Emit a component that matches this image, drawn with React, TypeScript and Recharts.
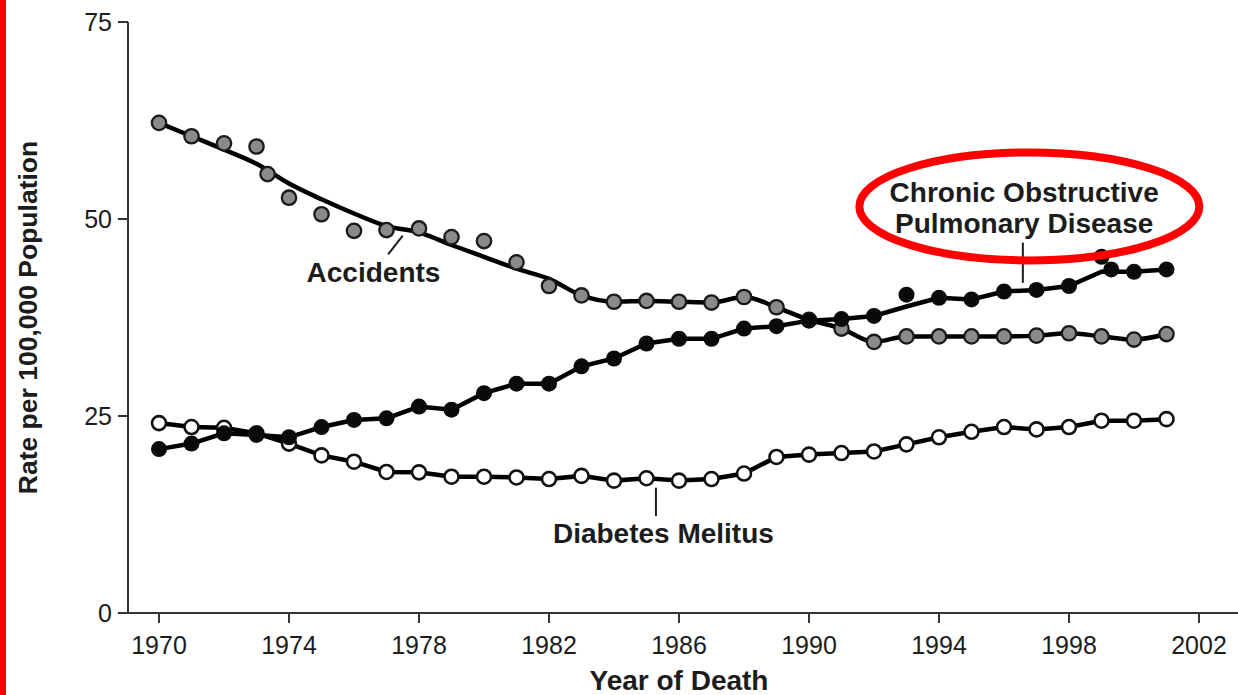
import React from 'react';
import {
  ComposedChart,
  Line,
  Scatter,
  XAxis,
  YAxis,
  ReferenceDot,
  ReferenceLine,
} from 'recharts';

// yearly categories
const years = [
  1970, 1971, 1972, 1973, 1974, 1975, 1976, 1977, 1978, 1979, 1980,
  1981, 1982, 1983, 1984, 1985, 1986, 1987, 1988, 1989, 1990, 1991,
  1992, 1993, 1994, 1995, 1996, 1997, 1998, 1999, 2000, 2001,
];

const xTicks = [1970, 1974, 1978, 1982, 1986, 1990, 1994, 1998, 2002];
const yTicks = [0, 25, 50, 75];

// Accidents: observed points (one extra point between 1973 and 1974) + fitted line
const accidentDotYears = [
  1970, 1971, 1972, 1973, 1973.34, 1974, 1975, 1976, 1977, 1978, 1979, 1980,
  1981, 1982, 1983, 1984, 1985, 1986, 1987, 1988, 1989, 1990, 1991,
  1992, 1993, 1994, 1995, 1996, 1997, 1998, 1999, 2000, 2001,
];
const accidentDots = [
  62.2, 60.5, 59.6, 59.2, 55.7, 52.7, 50.6, 48.5, 48.6, 48.8, 47.7, 47.2,
  44.5, 41.5, 40.3, 39.5, 39.6, 39.5, 39.4, 40.1, 38.8, 37.2, 36.1,
  34.4, 35.1, 35.1, 35.1, 35.1, 35.2, 35.5, 35.1, 34.7, 35.4,
];
const accidentTrend = [
  62.2, 60.5, 58.8, 57.0, 54.5, 52.5, 50.7, 49.1, 48.3, 46.7, 45.2,
  43.7, 42.4, 40.3, 39.5, 39.6, 39.5, 39.4, 40.1, 38.8, 37.2, 36.1,
  34.4, 35.1, 35.1, 35.1, 35.1, 35.2, 35.5, 35.1, 34.7, 35.4,
];

// Chronic obstructive pulmonary disease
const copdDotYears = [
  1970, 1971, 1972, 1973, 1974, 1975, 1976, 1977, 1978, 1979, 1980,
  1981, 1982, 1983, 1984, 1985, 1986, 1987, 1988, 1989, 1990, 1991,
  1992, 1993, 1994, 1995, 1996, 1997, 1998, 1999, 1999.3, 2000, 2001,
];
const copdDots = [
  20.8, 21.5, 22.8, 22.6, 22.3, 23.6, 24.5, 24.7, 26.2, 25.8, 27.9,
  29.1, 29.1, 31.3, 32.3, 34.2, 34.8, 34.8, 36.1, 36.4, 37.1, 37.3,
  37.7, 40.4, 40.0, 39.8, 40.8, 41.0, 41.5, 45.2, 43.6, 43.3, 43.6,
];
const copdTrend = [
  20.8, 21.5, 22.8, 22.6, 22.3, 23.6, 24.5, 24.7, 26.2, 25.8, 27.9,
  29.1, 29.1, 31.3, 32.3, 34.2, 34.8, 34.8, 36.1, 36.4, 37.1, 37.3,
  37.7, 38.9, 40.0, 39.8, 40.8, 41.0, 41.5, 43.3, 43.3, 43.6,
];

// Diabetes mellitus
const diabetesDots = [
  24.1, 23.6, 23.5, 22.8, 21.5, 20.0, 19.2, 17.9, 17.85, 17.3, 17.3,
  17.2, 17.0, 17.4, 16.8, 17.1, 16.8, 17.0, 17.7, 19.8, 20.1, 20.3,
  20.5, 21.4, 22.3, 23.0, 23.6, 23.3, 23.6, 24.4, 24.4, 24.6,
];

const toPoints = (xs: number[], ys: number[]) => xs.map((x, i) => ({ x, y: ys[i] }));

const accidentDotData = toPoints(accidentDotYears, accidentDots);
const accidentLineData = toPoints(years, accidentTrend);
const copdDotData = toPoints(copdDotYears, copdDots);
const copdLineData = toPoints(years, copdTrend);
const diabetesData = toPoints(years, diabetesDots);

const FONT = '"Liberation Sans", Arial, Helvetica, sans-serif';
const INK = '#1c1c1c';

const GreyDot = (props: any) => (
  <circle cx={props.cx} cy={props.cy} r={7.2} fill="#8a8a8a" stroke="#1a1a1a" strokeWidth={2.3} />
);
const WhiteDot = (props: any) => (
  <circle cx={props.cx} cy={props.cy} r={7} fill="#ffffff" stroke="#111" strokeWidth={2.6} />
);
const BlackDot = (props: any) => (
  <circle cx={props.cx} cy={props.cy} r={8} fill="#0a0a0a" />
);

const makeText = (lines: string[]) => (props: any) => (
  <text
    x={props.cx}
    y={props.cy}
    textAnchor="middle"
    fontFamily={FONT}
    fontWeight="bold"
    fontSize={28}
    fill={INK}
  >
    {lines.map((l, i) => (
      <tspan key={i} x={props.cx} dy={i === 0 ? 0 : 31}>
        {l}
      </tspan>
    ))}
  </text>
);

const RedEllipse = (props: any) => (
  <ellipse cx={props.cx} cy={props.cy} rx={170} ry={54} fill="none" stroke="#ff0000" strokeWidth={8} />
);

export default function App() {
  return (
    <div style={{ position: 'absolute', left: 0, top: 0, width: 1238, height: 695, background: '#fff', fontFamily: FONT }}>
      <div style={{ position: 'absolute', left: 0, top: 0, width: 6, height: 695, background: '#ff0000' }} />
      <ComposedChart width={1238} height={695} margin={{ top: 22, right: 0, bottom: 0, left: 0 }}>
        <XAxis
          type="number"
          dataKey="x"
          domain={[1969.046, 2003.2]}
          allowDataOverflow
          ticks={xTicks}
          height={82}
          tickSize={10}
          tickMargin={13}
          axisLine={{ stroke: '#333', strokeWidth: 2 }}
          tickLine={{ stroke: '#333', strokeWidth: 2 }}
          tick={{ fontSize: 25, fill: INK, fontFamily: FONT }}
          label={(p: any) => (
            <text
              x={p.viewBox.x + 551}
              y={690}
              textAnchor="middle"
              fontFamily={FONT}
              fontWeight="bold"
              fontSize={28}
              fill={INK}
            >
              Year of Death
            </text>
          )}
        />
        <YAxis
          type="number"
          dataKey="y"
          domain={[0, 75]}
          ticks={yTicks}
          width={128}
          tickSize={10}
          tickMargin={6}
          axisLine={{ stroke: '#333', strokeWidth: 2 }}
          tickLine={{ stroke: '#333', strokeWidth: 2 }}
          tick={{ fontSize: 25, fill: INK, fontFamily: FONT }}
          label={(p: any) => {
            const cy = p.viewBox.y + p.viewBox.height / 2;
            return (
              <text
                x={37}
                y={cy}
                transform={`rotate(-90, 37, ${cy})`}
                textAnchor="middle"
                fontFamily={FONT}
                fontWeight="bold"
                fontSize={26.5}
                fill={INK}
              >
                Rate per 100,000 Population
              </text>
            );
          }}
        />

        <Line data={diabetesData} dataKey="y" type="linear" stroke="#000" strokeWidth={4.5} dot={false} isAnimationActive={false} />
        <Scatter data={diabetesData} dataKey="y" shape={WhiteDot} isAnimationActive={false} />

        <Line data={accidentLineData} dataKey="y" type="monotone" stroke="#000" strokeWidth={4.5} dot={false} isAnimationActive={false} />
        <Scatter data={accidentDotData} dataKey="y" shape={GreyDot} isAnimationActive={false} />

        <Line data={copdLineData} dataKey="y" type="linear" stroke="#000" strokeWidth={4.5} dot={false} isAnimationActive={false} />
        <Scatter data={copdDotData} dataKey="y" shape={BlackDot} isAnimationActive={false} />

        {/* leader lines */}
        <ReferenceLine segment={[{ x: 1977.05, y: 45.5 }, { x: 1977.5, y: 47.9 }]} stroke={INK} strokeWidth={2} ifOverflow="visible" />
        <ReferenceLine segment={[{ x: 1996.58, y: 41.9 }, { x: 1996.58, y: 47.0 }]} stroke={INK} strokeWidth={2} ifOverflow="visible" />
        <ReferenceLine segment={[{ x: 1985.29, y: 12.3 }, { x: 1985.29, y: 15.9 }]} stroke={INK} strokeWidth={2} ifOverflow="visible" />

        {/* annotations */}
        <ReferenceDot x={1976.6} y={42.0} r={0} ifOverflow="visible" shape={makeText(['Accidents'])} />
        <ReferenceDot x={1996.62} y={52.1} r={0} ifOverflow="visible" shape={makeText(['Chronic Obstructive', 'Pulmonary Disease'])} />
        <ReferenceDot x={1985.52} y={8.9} r={0} ifOverflow="visible" shape={makeText(['Diabetes Melitus'])} />
        <ReferenceDot x={1996.78} y={51.6} r={0} ifOverflow="visible" shape={RedEllipse} />
      </ComposedChart>
    </div>
  );
}
